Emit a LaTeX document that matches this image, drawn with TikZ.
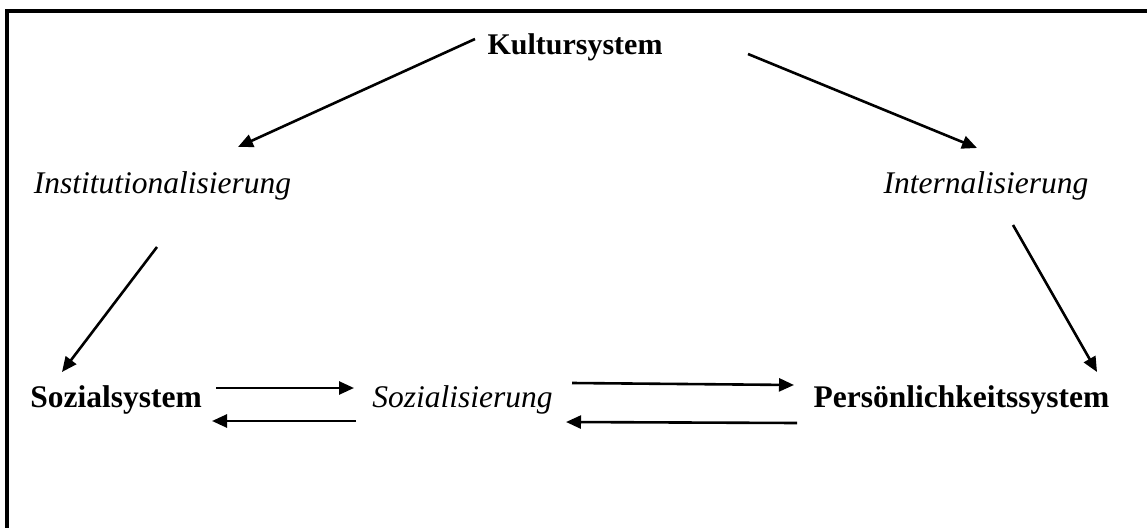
\documentclass[tikz,border=0pt]{standalone}
\usepackage{fontspec}
\setmainfont{Liberation Serif}
\usetikzlibrary{arrows.meta}
\tikzset{
  sys/.style={font=\fontsize{31.5}{38}\selectfont\bfseries, inner sep=0pt, anchor=base},
  proc/.style={font=\fontsize{31.5}{38}\selectfont\itshape, inner sep=0pt, anchor=base},
  arr/.style={line width=2.6pt, -{Triangle[length=15pt,width=13pt]}},
  frame/.style={line width=4pt}
}
\begin{document}
\begin{tikzpicture}[x=1pt,y=-1pt]
\useasboundingbox (0,0) rectangle (1147,527);
\clip (0,0) rectangle (1147,527);
\draw[frame] (7,600) -- (7,11) -- (1200,11);
\node[sys, font=\fontsize{30}{36}\selectfont\bfseries]  (kultur) at (575,55) {Kultursystem};
\node[proc] (inst)   at (162.5,193) {Institutionalisierung};
\node[proc] (intern) at (986,193) {Internalisierung};
\node[sys]  (sozsys) at (116,407) {Sozialsystem};
\node[proc] (sozial) at (462.5,407) {Sozialisierung};
\node[sys]  (pers)   at (961.5,407) {Persönlichkeitssystem};
\coordinate (a1s) at (475,39);   \coordinate (a1e) at (238,147);
\coordinate (a2s) at (748,54);   \coordinate (a2e) at (977,148);
\coordinate (a3s) at (157,247);  \coordinate (a3e) at (62,372);
\coordinate (a4s) at (1013,225); \coordinate (a4e) at (1097,372);
\coordinate (b1s) at (216,388);  \coordinate (b1e) at (354,388);
\coordinate (b2s) at (356,421);  \coordinate (b2e) at (212,421);
\coordinate (b3s) at (572,383);  \coordinate (b3e) at (794,385);
\coordinate (b4s) at (797,423);  \coordinate (b4e) at (566,422);
\draw[arr] (a1s) -- (a1e);
\draw[arr] (a2s) -- (a2e);
\draw[arr] (a3s) -- (a3e);
\draw[arr] (a4s) -- (a4e);
\draw[arr] (b1s) -- (b1e);
\draw[arr] (b2s) -- (b2e);
\draw[arr] (b3s) -- (b3e);
\draw[arr] (b4s) -- (b4e);
\end{tikzpicture}
\end{document}
